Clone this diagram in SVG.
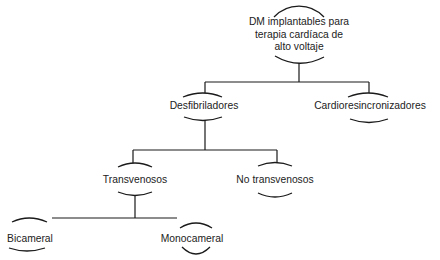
<svg xmlns="http://www.w3.org/2000/svg" width="440" height="260" viewBox="0 0 440 260">
<style>
.t{font-family:"Liberation Sans",Arial,sans-serif;font-size:10.3px;fill:#222;text-anchor:middle}
.a{fill:none;stroke:#1a1a1a;stroke-width:1.3}
.c{fill:none;stroke:#1a1a1a;stroke-width:1.2}
</style>
<rect width="440" height="260" fill="#fff"/>
<g id="connectors">
<path class="c" d="M299,63V82M205,82H369M205,82V93M369,82V93"/>
<path class="c" d="M205,120V150M133,150H277M133,150V163M277,150V163"/>
<path class="c" d="M135,195V218M52,218H177"/>
</g>
<g id="root">
<path class="a" d="M274,17A34,34 0 0 1 324,17"/>
<text class="t" x="299" y="25">DM implantables para</text>
<text class="t" x="299" y="38">terapia cardíaca de</text>
<text class="t" x="299" y="50">alto voltaje</text>
<path class="a" d="M275,56Q299,70 324,57"/>
</g>
<g id="desfibriladores">
<path class="a" d="M183,97Q203,89 222,97"/>
<text class="t" x="204" y="109">Desfibriladores</text>
<path class="a" d="M184,117Q203,124 222,117"/>
</g>
<g id="cardioresincronizadores">
<path class="a" d="M348,97Q368,89 388,97"/>
<text class="t" x="370" y="109">Cardioresincronizadores</text>
<path class="a" d="M350,119Q369,126 388,119"/>
</g>
<g id="transvenosos">
<path class="a" d="M118,167Q135,159 152,167"/>
<text class="t" x="135" y="183">Transvenosos</text>
<path class="a" d="M118,192Q135,199 152,192"/>
</g>
<g id="no-transvenosos">
<path class="a" d="M258,166Q275,159 292,166"/>
<text class="t" x="275" y="183">No transvenosos</text>
<path class="a" d="M258,193Q275,201 292,193"/>
</g>
<g id="bicameral">
<path class="a" d="M12,222Q29,214 47,222"/>
<text class="t" x="30" y="242">Bicameral</text>
<path class="a" d="M9,248Q27,254 45,248"/>
</g>
<g id="monocameral">
<path class="a" d="M180,228Q196,218 212,228"/>
<text class="t" x="192" y="242">Monocameral</text>
<path class="a" d="M182,247Q196,261 210,247"/>
</g>
</svg>
